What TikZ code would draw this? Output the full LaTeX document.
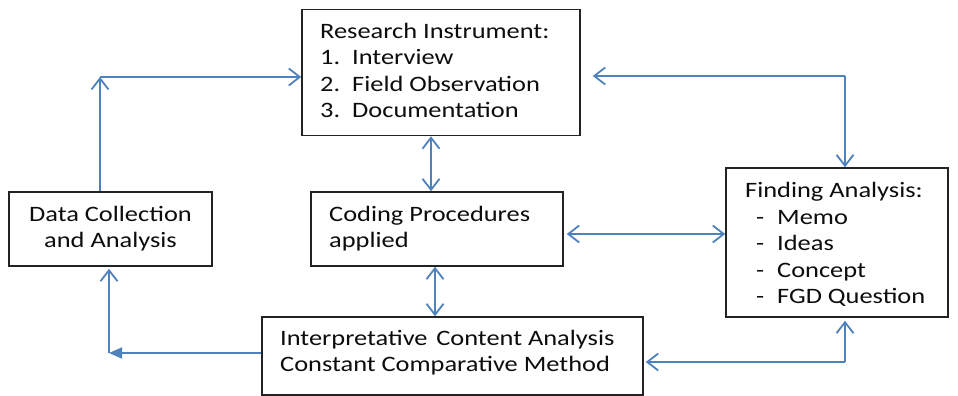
\documentclass[tikz,border=0pt]{standalone}
\usepackage{fontspec}
\setmainfont{Carlito}[FakeStretch=1.2]
\usetikzlibrary{arrows.meta}
\definecolor{lineblue}{RGB}{79,129,189}
\definecolor{boxline}{RGB}{35,35,35}
\tikzset{
  box/.style={draw=boxline, line width=1.5pt, rectangle, inner sep=0pt, fill=white},
  txt/.style={anchor=base west, inner sep=0pt, text=black!95},
  ctxt/.style={anchor=base, inner sep=0pt, text=black!95},
  arr/.style={draw=lineblue, line width=1.8pt, -{Straight Barb[length=11pt,width=17pt,line width=1.8pt]}},
  darr/.style={draw=lineblue, line width=1.8pt, {Straight Barb[length=11pt,width=17pt,line width=1.8pt]}-{Straight Barb[length=11pt,width=17pt,line width=1.8pt]}},
  farr/.style={draw=lineblue, line width=1.8pt, -{Triangle[length=13pt,width=11pt]}}
}
\begin{document}
\begin{tikzpicture}[x=1pt,y=-1pt]
\useasboundingbox (0,0) rectangle (958,396);
\fontsize{22}{26.7}\selectfont
% boxes
\node[box, minimum width=278pt, minimum height=126pt] (ri) at (441,72.5) {};
\node[box, minimum width=203pt, minimum height=74pt] (dc) at (110.5,229) {};
\node[box, minimum width=252pt, minimum height=74pt] (cp) at (437,229) {};
\node[box, minimum width=222pt, minimum height=149pt] (fa) at (837,242.5) {};
\node[box, minimum width=381pt, minimum height=78pt] (ic) at (452.5,356) {};
% texts
\node[txt] (ri0) at (320,38) {Research Instrument:};
\node[txt] (ri1n) at (320,64.5) {1.};
\node[txt] (ri1) at (352,64.5) {Interview};
\node[txt] (ri2n) at (320,91) {2.};
\node[txt] (ri2) at (352,91) {Field Observation};
\node[txt] (ri3n) at (320,117.5) {3.};
\node[txt] (ri3) at (352,117.5) {Documentation};
\node[ctxt] (dc1) at (110.5,221) {Data Collection};
\node[ctxt] (dc2) at (110.5,247.5) {and Analysis};
\node[txt] (cp1) at (329,221) {Coding Procedures};
\node[txt] (cp2) at (329,247.5) {applied};
\node[txt] (fa0) at (745,197) {Finding Analysis:};
\node[txt] (fa1d) at (756,224) {-};
\node[txt] (fa1) at (777,224) {Memo};
\node[txt] (fa2d) at (756,250.5) {-};
\node[txt] (fa2) at (777,250.5) {Ideas};
\node[txt] (fa3d) at (756,277) {-};
\node[txt] (fa3) at (777,277) {Concept};
\node[txt] (fa4d) at (756,303.5) {-};
\node[txt] (fa4) at (777,303.5) {FGD Question};
\node[txt] (ic1) at (280,345) {Interpretative\hspace{0.4em}Content Analysis};
\node[txt] (ic2) at (280,371.5) {Constant Comparative Method};
% corners
\coordinate (c1) at (100,77);
\coordinate (c2) at (845,76);
\coordinate (c3) at (109,353);
\coordinate (c4) at (845,362);
% connectors
\draw[arr] (dc.north -| c1) -- (c1);
\draw[arr] (c1) -- (c1 -| ri.west);
\draw[arr] (c2) -- ([xshift=12pt]c2 -| ri.east);
\draw[arr] (c2) -- (c2 |- fa.north);
\draw[darr] ([xshift=-10pt]ri.south) -- ([xshift=-10pt]ri.south |- cp.north);
\draw[darr] ([yshift=-5pt,xshift=3pt]cp.east) -- ([yshift=-5pt]cp.east -| fa.west);
\draw[darr] ([xshift=-2pt]cp.south) -- ([xshift=-2pt]cp.south |- ic.north);
\draw[farr] (ic.west |- c3) -- (c3);
\draw[arr] (c3) -- ([yshift=-2pt]c3 |- dc.south);
\draw[arr] (c4) -- ([xshift=2pt]c4 -| ic.east);
\draw[arr] (c4) -- ([yshift=-3pt]c4 |- fa.south);
\end{tikzpicture}
\end{document}
